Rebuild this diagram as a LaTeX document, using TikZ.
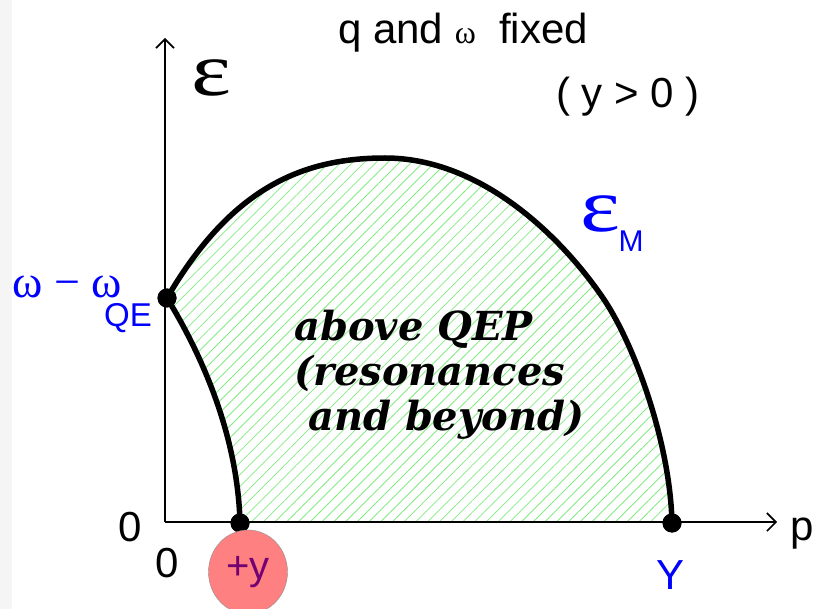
\documentclass[tikz,border=0pt]{standalone}
\usepackage{fontspec}
\setmainfont{Liberation Sans}
\newfontfamily\dejaserif{DejaVu Serif}
\newfontfamily\greekfont{Liberation Serif}
\usetikzlibrary{arrows.meta,patterns.meta,shapes.geometric}
\definecolor{hatchgreen}{RGB}{130,235,130}

\begin{document}
\begin{tikzpicture}[
  x=1pt, y=-1pt,
  axis/.style={line width=2pt, -{Straight Barb[length=9pt,width=18pt,line width=1.6pt]}},
  edge/.style={line width=5.5pt},
  dot/.style={circle, fill=black, inner sep=0pt, minimum size=19pt},
  lbl/.style={font=\fontsize{42}{46}\selectfont},
  bluelbl/.style={text=blue, inner sep=0pt},
  hatch/.style={pattern={Lines[angle=45,distance=8.3pt,line width=0.8pt]}, pattern color=hatchgreen}
]
  \useasboundingbox (0,0) rectangle (813,609);
  \fill[black!4] (0,0) rectangle (12,609);

  % axes
  \coordinate (orig) at (165,522);
  \coordinate (etop) at (165,38);
  \coordinate (pend) at (777,522);

  \node[dot] (qe)    at (167,298) {};
  \node[dot] (ylow)  at (240,523) {};
  \node[dot] (yhigh) at (672,523) {};

  % shaded region
  \fill[hatch] (qe.center) .. controls (230,190) and (300,158) .. (385,158)
        .. controls (480,158) and (560,235) .. (603,298)
        .. controls (633,342) and (670,440) .. (yhigh.center)
        -- (ylow.center) .. controls (238,440) and (205,360) .. (qe.center);

  \draw[axis] (orig) -- (etop);
  \draw[axis] (orig) -- (pend);

  \draw[edge] (qe.center) .. controls (230,190) and (300,158) .. (385,158)
        .. controls (480,158) and (560,235) .. (603,298)
        .. controls (633,342) and (670,440) .. (yhigh.center);
  \draw[edge] (qe.center) .. controls (205,360) and (238,440) .. (ylow.center);

  \node[dot] at (qe) {};
  \node[dot] at (ylow) {};
  \node[dot] at (yhigh) {};

  % labels
  \node[lbl] (title) at (463,33) {q and {\greekfont\fontsize{32}{32}\selectfont ω}\ \ fixed};
  \node[lbl] (cond)  at (628,97) {( y > 0 )};
  \node[inner sep=0pt, font=\greekfont\fontsize{76}{76}\selectfont] (eps) at (211,78) {\scalebox{1.25}[1]{ε}};
  \node[lbl, anchor=west, inner sep=0pt] (plbl) at (790,534) {p};
  \node[lbl] (zeroa) at (130,527) {0};
  \node[lbl] (zerob) at (167,563) {0};

  \node[bluelbl, font=\greekfont\fontsize{76}{76}\selectfont] (epsm) at (600,214) {\scalebox{1.25}[1]{ε}};
  \node[bluelbl, font=\fontsize{30}{30}\selectfont] (msub) at (631,241) {M};
  \node[bluelbl, font=\greekfont\fontsize{46}{46}\selectfont] (omg) at (67,287) {ω − ω};
  \node[bluelbl, font=\fontsize{33}{33}\selectfont] (qesub) at (128,318) {QE};
  \node[bluelbl, font=\fontsize{42}{46}\selectfont] (ylbl) at (670,575) {Y};

  \node[ellipse, draw=black!45, fill=red!50, minimum width=79pt, minimum height=84pt,
        inner sep=0pt, text=violet!90!black, font=\fontsize{40}{44}\selectfont] (plusy) at (248,572) {+y};

  \node[align=left, anchor=north west, inner sep=0pt,
        font=\dejaserif\bfseries\itshape\fontsize{40}{45}\selectfont] (region) at (294,310)
        {above QEP\\(resonances\\\ and beyond)};
\end{tikzpicture}
\end{document}
